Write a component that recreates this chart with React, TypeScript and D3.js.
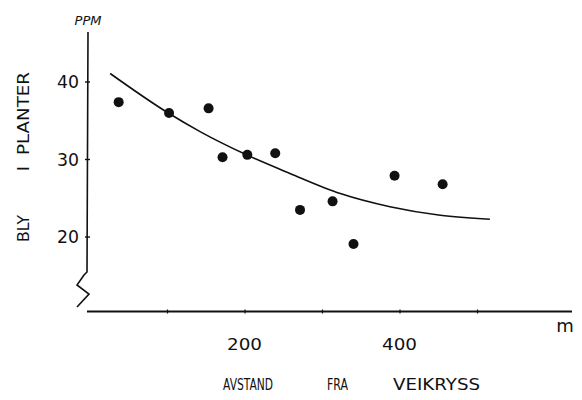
import React from "react";
import * as d3 from "d3";

const distances = [37, 102, 153, 171, 203, 239, 271, 313, 340, 393, 455];
const leadPpm = [37.4, 36.0, 36.6, 30.3, 30.6, 30.8, 23.5, 24.6, 19.1, 27.9, 26.8];
const curveX = [26, 101, 142, 202, 258, 323, 387, 452, 516];
const curveY = [41.1, 36.0, 33.6, 30.6, 28.2, 25.6, 23.9, 22.8, 22.3];
const yTicks = [20, 30, 40];
const xTicks = [100, 200, 300, 400, 500];
const xTickLabels = [200, 400];

const W = 582;
const H = 400;
const font = "'DejaVu Sans', sans-serif";

export default function App() {
  const x = d3.scaleLinear().domain([0, 600]).range([90, 555]);
  const y = d3.scaleLinear().domain([20, 40]).range([237, 82]);
  const line = d3
    .line<number>()
    .x((_, i) => x(curveX[i]))
    .y((d) => y(d))
    .curve(d3.curveMonotoneX);
  const axisX = 87;
  const axisY = 311.5;
  return (
    <svg
      width={W}
      height={H}
      style={{ position: "absolute", left: 0, top: 0, background: "#fff" }}
    >
      <rect width={W} height={H} fill="#fff" />
      {/* y axis */}
      <path
        d={`M${axisX + 1},32 L${axisX},272 L${axisX - 3},275 L${axisX - 10},285 L${axisX + 2},294 L${axisX - 10},307`}
        fill="none"
        stroke="#111"
        strokeWidth={1.6}
      />
      {yTicks.map((t) => (
        <g key={t}>
          <line x1={axisX - 2} x2={axisX + 3} y1={y(t)} y2={y(t)} stroke="#111" strokeWidth={1.4} />
          <text
            x={79}
            y={y(t)}
            textAnchor="end"
            dominantBaseline="central"
            fontFamily={font}
            fontSize={17}
            textLength={22}
            lengthAdjust="spacingAndGlyphs"
            fill="#111"
          >
            {t}
          </text>
        </g>
      ))}
      {/* x axis */}
      <line x1={axisX} x2={572} y1={axisY} y2={axisY} stroke="#111" strokeWidth={1.8} />
      {xTicks.map((t) => (
        <line key={t} x1={x(t)} x2={x(t)} y1={axisY - 2} y2={axisY + 2} stroke="#111" strokeWidth={1.2} />
      ))}
      {xTickLabels.map((t) => (
        <text
          key={t}
          x={x(t) - 18}
          y={344}
          dominantBaseline="central"
          fontFamily={font}
          fontSize={16}
          textLength={35}
          lengthAdjust="spacingAndGlyphs"
          fill="#111"
        >
          {t}
        </text>
      ))}
      <text x={565} y={332} textAnchor="middle" fontFamily={font} fontSize={18} fill="#111">
        m
      </text>
      <text x={88} y={25} textAnchor="middle" fontFamily={font} fontSize={13} fontStyle="italic" fill="#111">
        PPM
      </text>
      {/* axis titles */}
      <text x={223} y={390} textLength={50} lengthAdjust="spacingAndGlyphs" fontFamily={font} fontSize={15} fill="#111">
        AVSTAND
      </text>
      <text x={327} y={390} textLength={21} lengthAdjust="spacingAndGlyphs" fontFamily={font} fontSize={15} fill="#111">
        FRA
      </text>
      <text x={393} y={390} textLength={87} lengthAdjust="spacingAndGlyphs" fontFamily={font} fontSize={15} fill="#111">
        VEIKRYSS
      </text>
      <g transform="translate(29,0) rotate(-90)">
        <text x={-242} y={0} textLength={27} lengthAdjust="spacingAndGlyphs" fontFamily={font} fontSize={16} fill="#111">
          BLY
        </text>
        <text x={-171} y={0} fontFamily={font} fontSize={16} fill="#111">
          I
        </text>
        <text x={-155} y={0} textLength={83} lengthAdjust="spacingAndGlyphs" fontFamily={font} fontSize={16} fill="#111">
          PLANTER
        </text>
      </g>
      {/* fitted curve */}
      <path d={line(curveY) || ""} fill="none" stroke="#111" strokeWidth={1.6} />
      {/* points */}
      {distances.map((d, i) => (
        <circle key={i} cx={x(d)} cy={y(leadPpm[i])} r={5} fill="#111" />
      ))}
    </svg>
  );
}
